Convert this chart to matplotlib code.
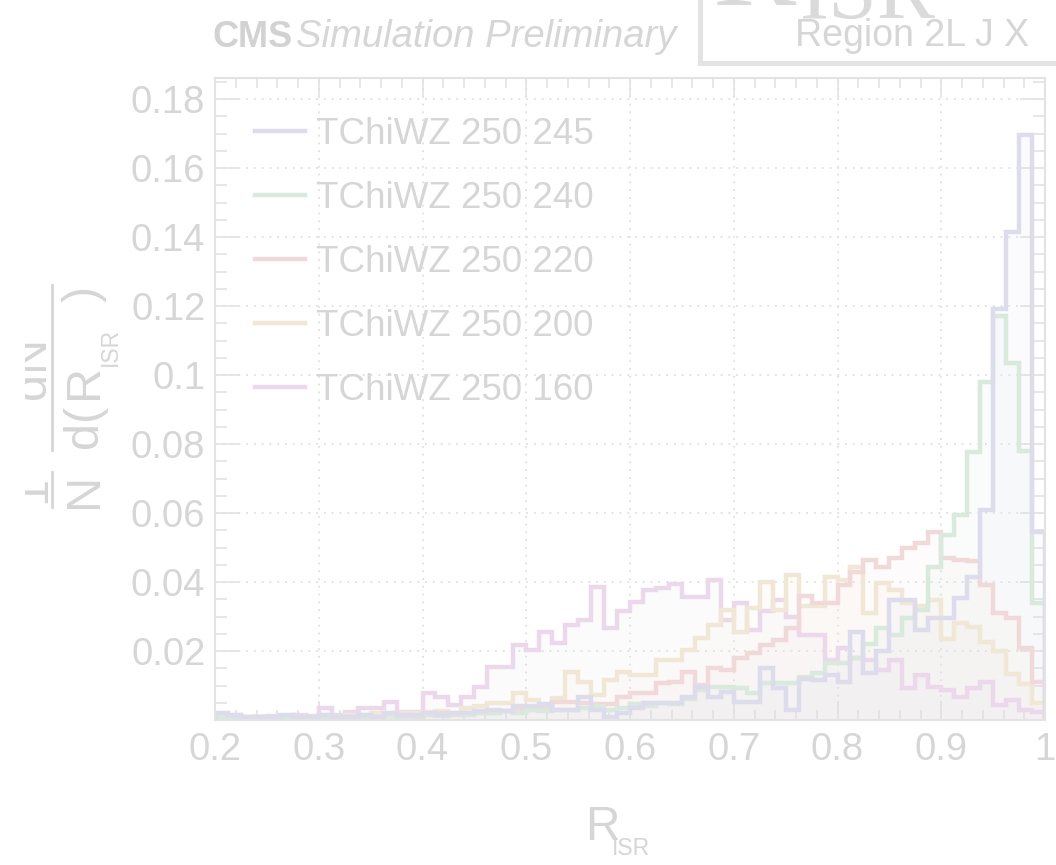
import numpy as np
import matplotlib
matplotlib.use("Agg")
import matplotlib.pyplot as plt
from matplotlib.lines import Line2D
from matplotlib.patches import Rectangle
from matplotlib.ticker import FixedLocator, MultipleLocator, FuncFormatter
from matplotlib.transforms import Bbox, TransformedBbox

# ---- binning of R_ISR ----
x_lo, x_hi, n_bins = 0.2, 1.0, 64

# ---- normalised R_ISR distributions, one per mass point ----
tchiwz_250_245 = [
    0.002, 0.0015, 0.001, 0.001, 0.001, 0.0015, 0.001, 0.001,
    0.0015, 0.001, 0.001, 0.0015, 0.001, 0.002, 0.0015, 0.0015,
    0.002, 0.0015, 0.002, 0.002, 0.0025, 0.003, 0.0025, 0.004,
    0.004, 0.0045, 0.003, 0.003, 0.0067, 0.003, 0.001, 0.002,
    0.0035, 0.005, 0.005, 0.005, 0.0067, 0.0096, 0.0067, 0.0081,
    0.0052, 0.0052, 0.015, 0.0093, 0.003, 0.012, 0.0116, 0.013,
    0.011, 0.0255, 0.0136, 0.020, 0.0348, 0.0348, 0.026, 0.0296,
    0.0296, 0.0354, 0.0414, 0.061, 0.119, 0.1414, 0.1696, 0.0545,
]
tchiwz_250_240 = [
    0.0005, 0.001, 0.0005, 0.0008, 0.0005, 0.001, 0.0008, 0.0005,
    0.001, 0.0008, 0.001, 0.0008, 0.001, 0.0012, 0.001, 0.0012,
    0.0015, 0.0012, 0.0018, 0.0015, 0.002, 0.002, 0.0025, 0.002,
    0.003, 0.0025, 0.003, 0.0028, 0.0035, 0.004, 0.003, 0.0035,
    0.0045, 0.004, 0.005, 0.0045, 0.006, 0.0087, 0.0096, 0.0096,
    0.0093, 0.0078, 0.0107, 0.0107, 0.0107, 0.0125, 0.0136, 0.0165,
    0.0165, 0.018, 0.022, 0.0267, 0.0246, 0.0296, 0.032, 0.0443,
    0.0536, 0.0594, 0.0777, 0.098, 0.117, 0.1035, 0.078, 0.034,
]
tchiwz_250_220 = [
    0.0005, 0.0008, 0.0005, 0.0005, 0.0008, 0.0005, 0.0008, 0.0005,
    0.001, 0.0008, 0.001, 0.0012, 0.001, 0.0012, 0.0015, 0.001,
    0.0015, 0.002, 0.0015, 0.002, 0.002, 0.002, 0.0025, 0.003,
    0.003, 0.0035, 0.0052, 0.0052, 0.005, 0.0045, 0.0045, 0.0067,
    0.0078, 0.0078, 0.0107, 0.011, 0.014, 0.0101, 0.015, 0.0145,
    0.018, 0.0194, 0.0217, 0.0232, 0.0267, 0.036, 0.034, 0.034,
    0.039, 0.043, 0.0464, 0.0443, 0.047, 0.050, 0.0513, 0.0545,
    0.047, 0.0464, 0.046, 0.039, 0.031, 0.0296, 0.021, 0.011,
]
tchiwz_250_200 = [
    0.0008, 0.001, 0.0005, 0.001, 0.0008, 0.0012, 0.001, 0.0008,
    0.0015, 0.001, 0.0015, 0.0015, 0.002, 0.0015, 0.002, 0.002,
    0.0023, 0.0025, 0.002, 0.0035, 0.004, 0.005, 0.005, 0.0078,
    0.0058, 0.0038, 0.0064, 0.014, 0.011, 0.0072, 0.0115, 0.014,
    0.013, 0.013, 0.0174, 0.0174, 0.0203, 0.0238, 0.0275, 0.032,
    0.0255, 0.0325, 0.040, 0.032, 0.042, 0.033, 0.033, 0.0414,
    0.0406, 0.0443, 0.031, 0.0397, 0.0377, 0.034, 0.033, 0.0348,
    0.0235, 0.028, 0.027, 0.0226, 0.020, 0.0133, 0.0104, 0.005,
]
tchiwz_250_160 = [
    0.001, 0.0015, 0.0008, 0.001, 0.0012, 0.001, 0.0015, 0.0012,
    0.0035, 0.0014, 0.0023, 0.0035, 0.0035, 0.0052, 0.0023, 0.0023,
    0.0078, 0.0067, 0.0043, 0.0067, 0.0096, 0.0154, 0.0154, 0.0217,
    0.0203, 0.0255, 0.0223, 0.0275, 0.029, 0.0386, 0.0266, 0.0316,
    0.0342, 0.0377, 0.0383, 0.0394, 0.0357, 0.0357, 0.0406, 0.029,
    0.034, 0.026, 0.0316, 0.0348, 0.030, 0.0246, 0.0246, 0.0174,
    0.0209, 0.018, 0.0174, 0.0145, 0.0174, 0.0093, 0.013, 0.0096,
    0.0087, 0.0067, 0.0093, 0.011, 0.0043, 0.0058, 0.0029, 0.0023,
]

series = [tchiwz_250_245, tchiwz_250_240, tchiwz_250_220,
          tchiwz_250_200, tchiwz_250_160]
series_labels = ["TChiWZ 250 245", "TChiWZ 250 240", "TChiWZ 250 220",
                 "TChiWZ 250 200", "TChiWZ 250 160"]
line_colors = ["#dcdced", "#d7eadb", "#f2d9d9", "#f0e8d5", "#ebd9eb"]

y_ticks = [0.02, 0.04, 0.06, 0.08, 0.10, 0.12, 0.14, 0.16, 0.18]
x_ticks = [0.2, 0.3, 0.4, 0.5, 0.6, 0.7, 0.8, 0.9, 1.0]

TXT = "#d6d6d6"
FRAME = "#e3e3e3"
SANS = "Liberation Sans"

W, H = 1056, 865
fig = plt.figure(figsize=(W / 100, H / 100), dpi=100)
fig.patch.set_facecolor("white")


def fx(px):
    return px / W


def fy(py):
    return 1 - py / H


ax = fig.add_axes([fx(215), fy(720), fx(1045) - fx(215), fy(78) - fy(720)])
edges = np.linspace(x_lo, x_hi, n_bins + 1)

for vals, col in zip(series[::-1], line_colors[::-1]):
    ax.stairs(vals, edges, fill=True, color=col, alpha=0.10, lw=0)
for vals, col in zip(series[::-1], line_colors[::-1]):
    ax.stairs(vals, edges, color=col, lw=3.2)

ax.set_xlim(x_lo, x_hi)
ax.set_ylim(0, 0.1861)

ax.xaxis.set_major_locator(FixedLocator(x_ticks))
ax.xaxis.set_minor_locator(MultipleLocator(0.02))
ax.yaxis.set_major_locator(FixedLocator(y_ticks))
ax.yaxis.set_minor_locator(MultipleLocator(0.005))
ax.xaxis.set_major_formatter(FuncFormatter(lambda v, p: f"{v:g}"))
ax.yaxis.set_major_formatter(FuncFormatter(lambda v, p: f"{v:g}"))

ax.tick_params(which="both", direction="in", top=True, right=True,
               color=FRAME, width=1.2, labelcolor=TXT, labelsize=27.5)
ax.tick_params(axis="x", which="major", length=13.5, pad=9)
ax.tick_params(axis="x", which="minor", length=7)
ax.tick_params(axis="y", which="major", length=18, pad=7)
ax.tick_params(axis="y", which="minor", length=8.5)
for lab in ax.get_xticklabels() + ax.get_yticklabels():
    lab.set_family(SANS)

ax.grid(True, which="major", color="#e4e4e4", linestyle=(0, (1, 3)), lw=1.4)
ax.set_axisbelow(True)
for sp in ax.spines.values():
    sp.set_color(FRAME)
    sp.set_linewidth(1.5)

# legend
handles = [Line2D([], [], color=c, lw=3.2) for c in line_colors]
fig.legend(handles, series_labels, loc="upper left",
           bbox_to_anchor=(fx(255), fy(117)), frameon=False,
           prop={"family": SANS, "size": 26.5}, labelcolor=TXT,
           handlelength=1.36, handletextpad=0.3, labelspacing=0.79,
           borderpad=0, borderaxespad=0)

# header
fig.text(fx(213), fy(47), "CMS", fontsize=26, fontweight="bold",
         family=SANS, color="#d2d2d2", va="baseline")
fig.text(fx(296), fy(47), "Simulation Preliminary", fontsize=27.5,
         style="italic", family=SANS, color=TXT, va="baseline")

fig.add_artist(Rectangle((fx(700), fy(63)), fx(400), fy(-40) - fy(63),
                         transform=fig.transFigure, facecolor="white",
                         edgecolor="#e3e3e3", lw=3.6, clip_on=False))
fig.text(fx(712), fy(5), "R", fontsize=90, family="Liberation Serif",
         color="#dadada", va="baseline")
fig.text(fx(800), fy(18), "ISR", fontsize=63, family="Liberation Serif",
         color="#dadada", va="baseline")
fig.text(fx(795), fy(46), "Region 2L J X", fontsize=27, family=SANS,
         color=TXT, va="baseline")

# x axis title
fig.text(fx(585), fy(840), "R", fontsize=34.5, family=SANS, color=TXT,
         va="baseline")
fig.text(fx(612), fy(855), "ISR", fontsize=16.5, family=SANS, color=TXT,
         va="baseline")

# y axis title: 1/N dN/d(R_ISR)
clip = TransformedBbox(Bbox([[fx(25), 0], [1, 1]]), fig.transFigure)


def ytxt(px, py, s, size=35, ha="left"):
    t = fig.text(fx(px), fy(py), s, fontsize=size, family=SANS, color=TXT,
                 rotation=90, rotation_mode="anchor", ha=ha, va="baseline")
    t.set_clip_box(clip)
    t.set_clip_on(True)
    return t


ytxt(97, 448, "d(")
ytxt(97, 399, "R")
ytxt(117, 366, "ISR", size=16.5)
ytxt(97, 302, ")")
ytxt(45, 368, "dN", ha="center")
ytxt(45, 489, "1", ha="center")
ytxt(97, 490, "N", ha="center")
for y0, y1 in [(285, 450), (472, 507)]:
    fig.add_artist(Line2D([fx(52), fx(52)], [fy(y0), fy(y1)],
                          transform=fig.transFigure, color=TXT, lw=2))

fig.savefig("out.png", dpi=100, facecolor="white")
